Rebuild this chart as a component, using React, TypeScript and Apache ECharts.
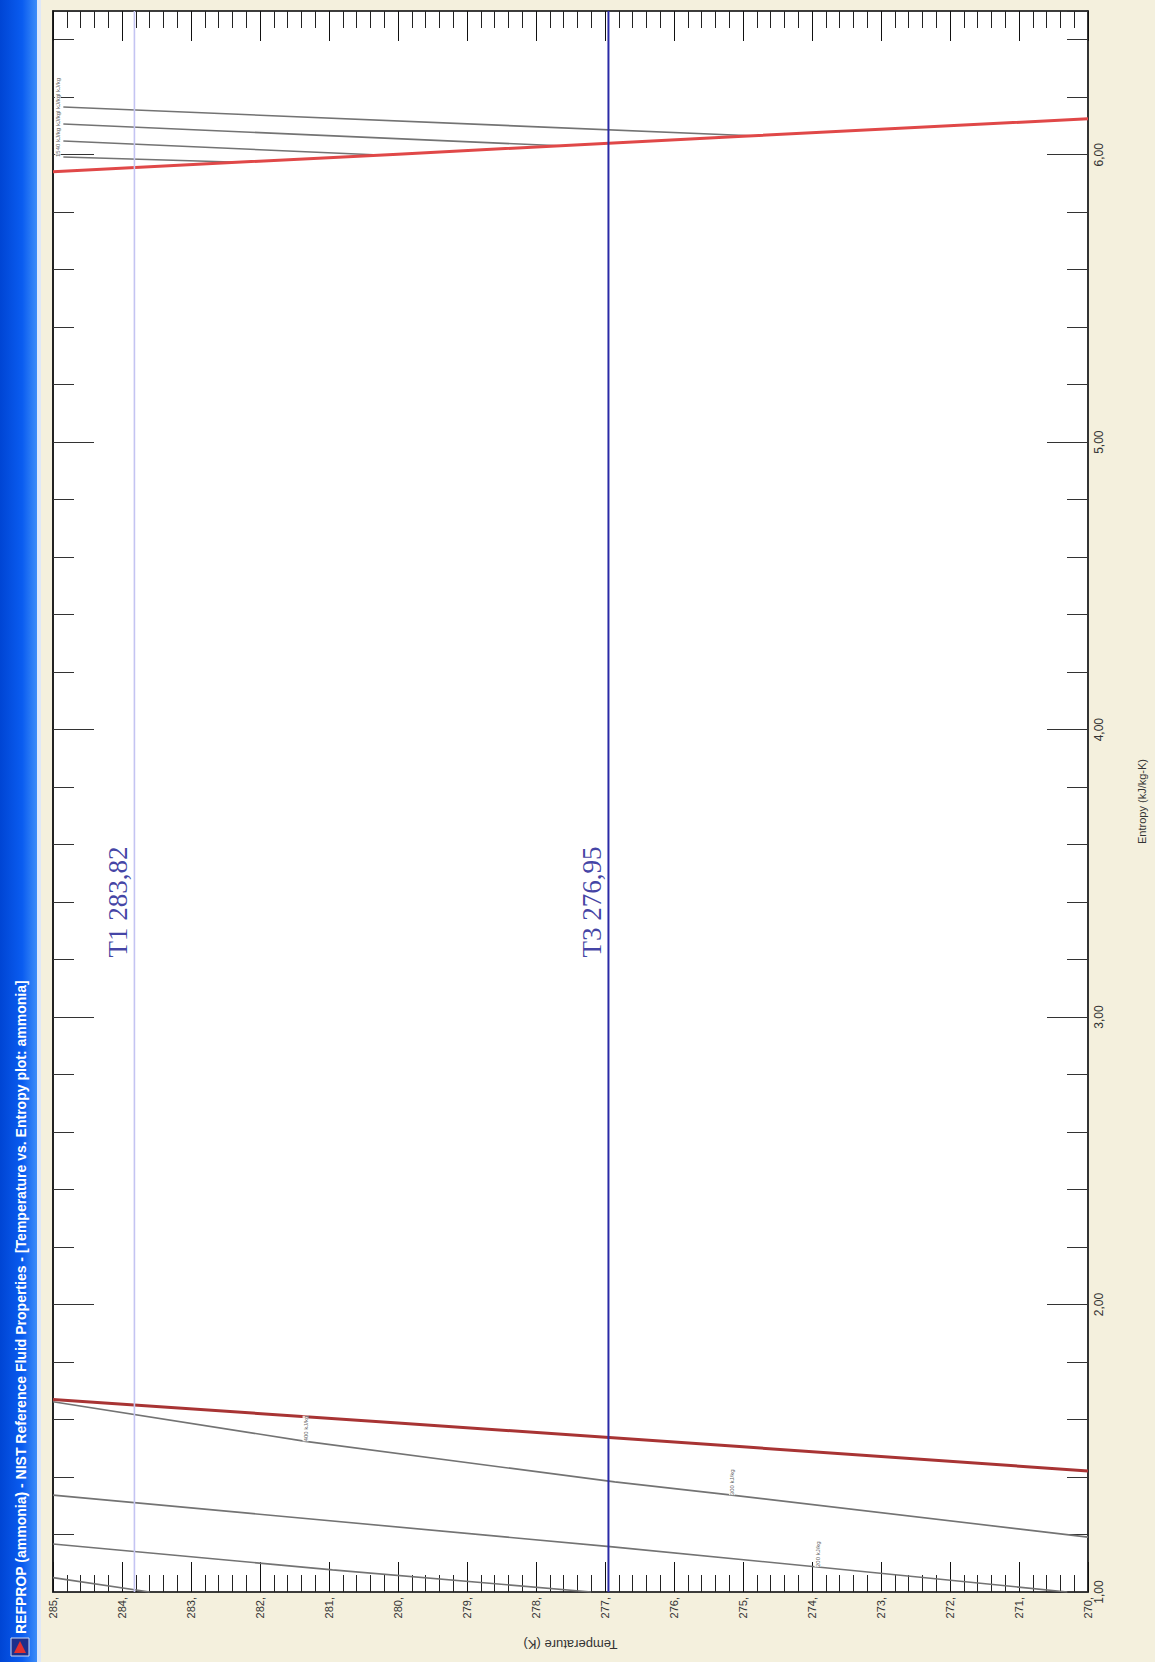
import React, { useEffect, useRef } from "react";
import * as echarts from "echarts";

// ---- Data (Temperature in K, Entropy in kJ/kg-K) ----
const satLiquidT = [285, 280, 275, 270];
const satLiquidS = [1.67, 1.588, 1.505, 1.421];
const satVaporT = [285, 280, 275, 270];
const satVaporS = [5.941, 6.002, 6.064, 6.125];

const lineA_T = [285, 281.34, 276.86, 275.16, 270];
const lineA_S = [1.662, 1.524, 1.383, 1.337, 1.191];
const lineB_T = [285, 276.89, 273.92, 270.3];
const lineB_S = [1.337, 1.157, 1.087, 1.0];
const lineC_T = [285, 280.95, 277.2];
const lineC_S = [1.167, 1.077, 1.0];
const lineD_T = [285, 283.6];
const lineD_S = [1.05, 1.0];

const vapor1_T = [284.85, 274.88];
const vapor1_S = [6.166, 6.066];
const vapor2_T = [284.85, 277.66];
const vapor2_S = [6.107, 6.031];
const vapor3_T = [284.85, 280.27];
const vapor3_S = [6.048, 5.999];
const vapor4_T = [284.85, 282.29];
const vapor4_S = [5.992, 5.974];

const lineLabelT = [281.34, 275.16, 273.92, 284.93, 284.93, 284.93, 284.93];
const lineLabelS = [1.524, 1.337, 1.087, 6.166, 6.107, 6.048, 5.992];
const lineLabelText = [
  "400 kJ/kg",
  "300 kJ/kg",
  "200 kJ/kg",
  "1600 kJ/kg",
  "1580 kJ/kg",
  "1560 kJ/kg",
  "1540 kJ/kg",
];

const markerNames = ["T1", "T3"];
const markerTemps = [283.82, 276.95];
const markerLabelS = [3.4, 3.4];
const markerColors = ["#c4c4f2", "#2a2aa6"];

const tempMin = 270;
const tempMax = 285;
const entropyMin = 1;
const entropyMax = 6.5;

const titleText =
  "REFPROP (ammonia) - NIST Reference Fluid Properties - [Temperature vs. Entropy plot: ammonia]";

const zip = (a: number[], b: number[]) => a.map((v, i) => [v, b[i]]);

export default function App() {
  const ref = useRef<HTMLDivElement>(null);

  useEffect(() => {
    if (!ref.current) return;
    const chart = echarts.init(ref.current, undefined, { renderer: "svg" });

    const grid = { left: 53, top: 11, width: 1036, height: 1581 };

    const greyLine = (data: number[][]) => ({
      type: "line",
      xAxisIndex: 0,
      yAxisIndex: 0,
      data,
      symbol: "none",
      silent: true,
      lineStyle: { color: "#737373", width: 1.6 },
      z: 3,
    });

    const option: any = {
      animation: false,
      backgroundColor: "#f4f0dd",
      grid: {
        ...grid,
        show: true,
        backgroundColor: "#ffffff",
        borderColor: "#222",
        borderWidth: 1,
      },
      xAxis: [
        {
          type: "value",
          position: "bottom",
          min: tempMin,
          max: tempMax,
          interval: 1,
          inverse: true,
          name: "Temperature (K)",
          nameLocation: "middle",
          nameRotate: 180,
          nameGap: 46,
          nameTextStyle: { fontFamily: "Liberation Sans", fontSize: 13, color: "#333" },
          axisLine: { onZero: false, lineStyle: { color: "#222", width: 1.5 } },
          axisTick: { inside: true, length: 30, lineStyle: { color: "#111", width: 1 } },
          minorTick: { show: true, splitNumber: 5, length: 17, lineStyle: { color: "#222", width: 1 } },
          splitLine: { show: false },
          axisLabel: {
            fontFamily: "Liberation Sans",
            fontSize: 11,
            color: "#333",
            rotate: 90,
            margin: 5,
            formatter: (v: number) => `${v},`,
          },
        },
        {
          type: "value",
          position: "top",
          min: tempMin,
          max: tempMax,
          interval: 1,
          inverse: true,
          axisLine: { onZero: false, lineStyle: { color: "#222", width: 1.5 } },
          axisTick: { inside: true, length: 30, lineStyle: { color: "#111", width: 1 } },
          minorTick: { show: true, splitNumber: 5, length: 17, lineStyle: { color: "#222", width: 1 } },
          splitLine: { show: false },
          axisLabel: { show: false },
        },
      ],
      yAxis: [
        {
          type: "value",
          position: "right",
          min: entropyMin,
          max: entropyMax,
          interval: 1,
          name: "Entropy (kJ/kg-K)",
          nameLocation: "middle",
          nameRotate: 90,
          nameGap: 48,
          nameTextStyle: { fontFamily: "Liberation Sans", fontSize: 11, color: "#333" },
          axisLine: { onZero: false, lineStyle: { color: "#333", width: 2 } },
          axisTick: { inside: true, length: 41, lineStyle: { color: "#333", width: 1 } },
          splitLine: { show: false },
          axisLabel: {
            fontFamily: "Liberation Sans",
            fontSize: 12,
            color: "#333",
            rotate: 90,
            margin: 5,
            showMaxLabel: false,
            formatter: (v: number) => v.toFixed(2).replace(".", ","),
          },
        },
        {
          type: "value",
          position: "right",
          min: entropyMin,
          max: entropyMax,
          interval: 0.2,
          axisLine: { show: false },
          axisTick: { inside: true, length: 21, lineStyle: { color: "#333", width: 1 } },
          splitLine: { show: false },
          axisLabel: { show: false },
        },
        {
          type: "value",
          position: "left",
          min: entropyMin,
          max: entropyMax,
          interval: 1,
          axisLine: { onZero: false, lineStyle: { color: "#222", width: 2 } },
          axisTick: { inside: true, length: 41, lineStyle: { color: "#333", width: 1 } },
          splitLine: { show: false },
          axisLabel: { show: false },
        },
        {
          type: "value",
          position: "left",
          min: entropyMin,
          max: entropyMax,
          interval: 0.2,
          axisLine: { show: false },
          axisTick: { inside: true, length: 21, lineStyle: { color: "#333", width: 1 } },
          splitLine: { show: false },
          axisLabel: { show: false },
        },
      ],
      series: [
        greyLine(zip(lineA_T, lineA_S)),
        greyLine(zip(lineB_T, lineB_S)),
        greyLine(zip(lineC_T, lineC_S)),
        greyLine(zip(lineD_T, lineD_S)),
        greyLine(zip(vapor1_T, vapor1_S)),
        greyLine(zip(vapor2_T, vapor2_S)),
        greyLine(zip(vapor3_T, vapor3_S)),
        greyLine(zip(vapor4_T, vapor4_S)),
        {
          type: "line",
          name: "Saturated liquid",
          data: zip(satLiquidT, satLiquidS),
          symbol: "none",
          silent: true,
          lineStyle: { color: "#a83434", width: 3 },
          z: 4,
        },
        {
          type: "line",
          name: "Saturated vapor",
          data: zip(satVaporT, satVaporS),
          symbol: "none",
          silent: true,
          lineStyle: { color: "#e04848", width: 3 },
          z: 4,
        },
        ...markerTemps.map((t, i) => ({
          type: "line",
          name: markerNames[i],
          data: [
            [t, entropyMin],
            [t, entropyMax],
          ],
          symbol: "none",
          silent: true,
          lineStyle: { color: markerColors[i], width: i === 0 ? 1.6 : 2 },
          z: 5,
        })),
        {
          type: "scatter",
          symbolSize: 0,
          silent: true,
          data: markerTemps.map((t, i) => ({
            value: [t, markerLabelS[i]],
            label: {
              show: true,
              position: "inside",
              rotate: 90,
              align: "center",
              verticalAlign: "bottom",
              offset: [0, -3],
              formatter: `${markerNames[i]} ${t.toFixed(2).replace(".", ",")}`,
              fontFamily: "Liberation Serif",
              fontSize: 27,
              color: "#12128e",
            },
          })),
          z: 6,
        },
        {
          type: "scatter",
          symbolSize: 0,
          silent: true,
          data: lineLabelT.map((t, i) => ({
            value: [t, lineLabelS[i]],
            label: {
              show: true,
              position: "inside",
              rotate: 90,
              align: "left",
              verticalAlign: "middle",
              formatter: lineLabelText[i],
              fontFamily: "Liberation Sans",
              fontSize: 6,
              color: "#333",
              backgroundColor: "#ffffff",
            },
          })),
          z: 6,
        },
      ],
      graphic: [
        {
          type: "rect",
          shape: { x: 0, y: 0, width: 37, height: 1662 },
          style: {
            fill: new echarts.graphic.LinearGradient(0, 0, 1, 0, [
              { offset: 0, color: "#0045d4" },
              { offset: 0.6, color: "#0a5cf0" },
              { offset: 1, color: "#3d8df8" },
            ]),
          },
          silent: true,
          z: 10,
        },
        {
          type: "rect",
          shape: { x: 37, y: 0, width: 4, height: 1662 },
          style: { fill: "#dfe8f8" },
          silent: true,
          z: 10,
        },
        {
          type: "text",
          x: 21,
          y: 1634,
          rotation: Math.PI / 2,
          style: {
            text: titleText,
            fill: "#ffffff",
            font: "bold 14px 'Liberation Sans'",
            textAlign: "left",
            textVerticalAlign: "middle",
          },
          silent: true,
          z: 11,
        },
        {
          type: "rect",
          shape: { x: 11, y: 1638, width: 18, height: 18 },
          style: { fill: "#1c2f8c", stroke: "#d0d8f0", lineWidth: 1 },
          silent: true,
          z: 11,
        },
        {
          type: "polygon",
          shape: { points: [[14, 1653], [20, 1641], [26, 1653]] },
          style: { fill: "#e03030" },
          silent: true,
          z: 12,
        },
      ],
    };

    chart.setOption(option);
    return () => chart.dispose();
  }, []);

  return (
    <div
      ref={ref}
      style={{ position: "absolute", left: 0, top: 0, width: 1155, height: 1662 }}
    />
  );
}
